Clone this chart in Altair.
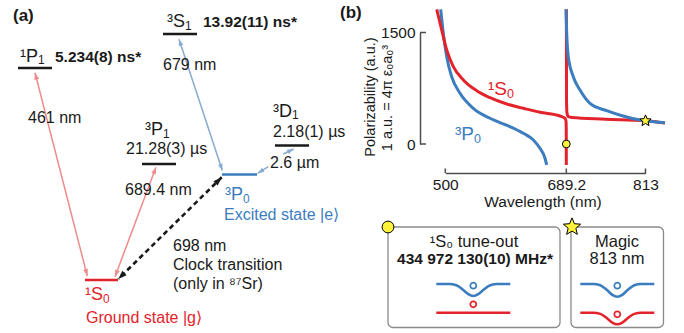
import math
import altair as alt
import pandas as pd

W, H = 684, 333
FONT = "Liberation Sans"
RED = "#e3232b"
BLUE = "#3b7dbf"
LRED = "#ee8c8c"
LBLUE = "#88aad0"
BLACK = "#1a1a1a"
GREY = "#4d4d4d"
YELLOW = "#fff23a"

# ---------------- (b) polarizability curves (wavelength nm, a.u.) ----------------
s0_left_wl = [486.6, 494.4, 502.2, 512.5, 528.1, 549.1, 569.9, 596.0, 621.9, 648.0, 679.3, 687.1, 688.7, 689.1, 689.2]
s0_left_a = [1812, 1533, 1264, 1040, 861, 717, 623, 538, 480, 426, 377, 346, 310, 200, -282]
s0_right_wl = [689.3, 689.5, 690.2, 692.3, 698.0, 750.0, 813.0, 843.4]
s0_right_a = [1812, 600, 420, 367, 356, 334, 312, 282]
p0_left_wl = [492.8, 496.9, 502.2, 510.0, 523.0, 543.8, 569.9, 601.2, 621.9, 637.6, 648.0, 655.9, 658.5]
p0_left_a = [1812, 1489, 1174, 905, 682, 480, 346, 233, 144, 54, -58, -192, -282]
p0_right_wl = [688.6, 689.8, 692.3, 700.1, 710.6, 726.2, 752.3, 777.8, 804.4, 813.0, 843.5]
p0_right_a = [1812, 1489, 1174, 905, 726, 547, 448, 377, 323, 312, 286]
x_ticks = [500, 689.2, 813]
y_ticks = [0, 1500]
tuneout_wl, tuneout_a = [689.2], [0]
magic_wl, magic_a = [813], [312]

# ---------------- (a) energy-level diagram (figure pixel coordinates) ----------------
level_x1 = [18, 163, 142, 275, 222, 85]
level_x2 = [52, 197, 176, 309, 257, 118]
level_y = [68, 34, 164, 145.5, 174.5, 280]
level_col = [BLACK, BLACK, BLACK, BLACK, BLUE, RED]

arrow_x1 = [35, 156, 179, 268.3, 283.3, 221.7]
arrow_y1 = [72.7, 167.3, 39.3, 166.7, 154, 177.3]
arrow_x2 = [87.3, 115, 222.3, 257.7, 293.7, 118.3]
arrow_y2 = [276, 276.7, 170.5, 173.3, 149, 279]
arrow_kind = ["lred", "lred", "lblue", "lblue", "lblue", "clock"]
arrow_both = [True, True, True, False, False, True]

# term symbols: (superscript+letter, subscript, x, baseline y, size, colour)
terms = [
    ("¹P", "1", 20, 61.7, 18, BLACK),
    ("³S", "1", 167, 27.3, 18, BLACK),
    ("³P", "1", 145, 135, 18, BLACK),
    ("³D", "1", 273, 116.7, 18, BLACK),
    ("³P", "0", 225, 200, 18, BLUE),
    ("¹S", "0", 85, 300, 18, RED),
    ("¹S", "0", 488, 95, 19, RED),
    ("³P", "0", 455, 140, 19, BLUE),
]

# text items: (text, x, y, size, colour, weight, align, angle)
texts = [
    ("(a)", 13, 21, 17, BLACK, "bold", "left", 0),
    ("(b)", 340, 17.5, 17, BLACK, "bold", "left", 0),
    ("5.234(8) ns*", 55, 61.7, 15.5, BLACK, "bold", "left", 0),
    ("13.92(11) ns*", 203, 27.3, 15.5, BLACK, "bold", "left", 0),
    ("461 nm", 28, 122.7, 16, BLACK, "normal", "left", 0),
    ("679 nm", 163, 70, 16, BLACK, "normal", "left", 0),
    ("21.28(3) µs", 126, 154, 16, BLACK, "normal", "left", 0),
    ("2.18(1) µs", 273, 136.7, 16, BLACK, "normal", "left", 0),
    ("2.6 µm", 270, 168, 16, BLACK, "normal", "left", 0),
    ("689.4 nm", 125, 195, 16, BLACK, "normal", "left", 0),
    ("Excited state |e\u27e9", 224, 220, 16, BLUE, "normal", "left", 0),
    ("698 nm", 173, 251, 16, BLACK, "normal", "left", 0),
    ("Clock transition", 173, 270, 16, BLACK, "normal", "left", 0),
    ("(only in ⁸⁷Sr)", 173, 288.5, 16, BLACK, "normal", "left", 0),
    ("Ground state |g\u27e9", 86, 322.7, 16, RED, "normal", "left", 0),
    ("Wavelength (nm)", 543, 207, 15.5, BLACK, "normal", "center", 0),
    ("Polarizability (a.u.)", 371, 97, 14.5, BLACK, "normal", "center", 270),
    ("1 a.u. = 4π ε₀a₀³", 388, 98, 14.5, BLACK, "normal", "center", 270),
    ("¹S₀ tune-out", 474, 246.7, 16.5, BLACK, "normal", "center", 0),
    ("434 972 130(10) MHz*", 475, 264, 15.5, BLACK, "bold", "center", 0),
    ("Magic", 617, 246.7, 16.5, BLACK, "normal", "center", 0),
    ("813 nm", 617, 264, 16.5, BLACK, "normal", "center", 0),
]

box_x1 = [388, 571]
box_x2 = [560, 663.5]
box_y1 = [227, 227]
box_y2 = [327.5, 327.5]

# potential-well icons: template offsets and per-icon centre / depth
well_dx = [-37, -24, -17, -10, -5, 0, 5, 10, 17, 24, 37]
well_f = [0, 0, 0.1, 0.5, 0.85, 1, 0.85, 0.5, 0.1, 0, 0]
icon_cx = [473.3, 473.3, 617.3, 617.3]
icon_y0 = [284, 312.7, 284, 312.7]
icon_depth = [12, 0, 12.7, 11.6]
icon_col = [BLUE, RED, BLUE, RED]
atom_x = [473.3, 473.3, 617.3, 617.3]
atom_y = [285.7, 304.3, 285.7, 314.3]
atom_col = [BLUE, RED, BLUE, RED]

# five-pointed star glyph (unit radius) for the magic-wavelength markers
_pts = []
for k in range(10):
    r = 1.0 if k % 2 == 0 else 0.45
    t = math.radians(-90 + 36 * k)
    _pts.append("%.3f,%.3f" % (r * math.cos(t), r * math.sin(t)))
STAR = "M" + "L".join(_pts) + "Z"
HEAD = "M0,0L0.45,1.25L-0.45,1.25Z"
# Arial / Liberation Sans advance widths (em) for placing subscripts
ADV = {"¹": 0.333, "³": 0.333, "P": 0.667, "S": 0.667, "D": 0.722}

# ---------------- build tables ----------------
px_x = alt.Scale(domain=[0, W], range=[0, W], nice=False, zero=False)
px_y = alt.Scale(domain=[0, H], range=[0, H], nice=False, zero=False)


def X(f):
    return alt.X(f, type="quantitative", scale=px_x, axis=None)


def Y(f):
    return alt.Y(f, type="quantitative", scale=px_y, axis=None)


levels = pd.DataFrame(dict(x=level_x1, x2=level_x2, y=level_y, y2=level_y, col=level_col))
arrows = pd.DataFrame(dict(x=arrow_x1, y=arrow_y1, x2=arrow_x2, y2=arrow_y2, kind=arrow_kind))

kind_col = {"lred": LRED, "lblue": LBLUE, "clock": BLACK}
kind_size = {"lred": 120, "lblue": 110, "clock": 190}


def ang(tx, ty, hx, hy):
    return (math.degrees(math.atan2(hx - tx, -(hy - ty))) + 360.0) % 360.0


heads = []
for i in range(len(arrow_x1)):
    k = arrow_kind[i]
    heads.append(dict(x=arrow_x2[i], y=arrow_y2[i], angle=ang(arrow_x1[i], arrow_y1[i], arrow_x2[i], arrow_y2[i]),
                      col=kind_col[k], size=kind_size[k]))
    if arrow_both[i]:
        heads.append(dict(x=arrow_x1[i], y=arrow_y1[i], angle=ang(arrow_x2[i], arrow_y2[i], arrow_x1[i], arrow_y1[i]),
                          col=kind_col[k], size=kind_size[k]))
heads = pd.DataFrame(heads)

trows = [list(t) for t in texts]
for base, sub, x, y, fs, col in terms:
    trows.append([base, x, y, fs, col, "normal", "left", 0])
    w = sum(ADV[c] for c in base) * fs
    trows.append([sub, x + w, y + 0.15 * fs, 0.66 * fs, col, "normal", "left", 0])
tdf = pd.DataFrame(trows, columns=["text", "x", "y", "fs", "col", "weight", "align", "angle"])

boxes = pd.DataFrame(dict(x=box_x1, x2=box_x2, y=box_y1, y2=box_y2))
box_circle = pd.DataFrame(dict(x=[box_x1[0]], y=[box_y1[0]]))
box_star = pd.DataFrame(dict(x=[box_x1[1] + 1], y=[box_y1[1]]))

wells = []
for j in range(len(icon_cx)):
    for i, (dx, f) in enumerate(zip(well_dx, well_f)):
        wells.append(dict(icon=j, i=i, x=icon_cx[j] + dx, y=icon_y0[j] + icon_depth[j] * f, col=icon_col[j]))
wells = pd.DataFrame(wells)
atoms = pd.DataFrame(dict(x=atom_x, y=atom_y, col=atom_col))

# ---------------- diagram layers ----------------
d_layers = []
d_layers.append(alt.Chart(boxes).mark_rect(cornerRadius=5, fill="white", stroke="#8a8a8a", strokeWidth=1.3)
                .encode(x=X("x"), x2="x2", y=Y("y"), y2="y2"))
d_layers.append(alt.Chart(levels).mark_rule(strokeWidth=2.6)
                .encode(x=X("x"), x2="x2", y=Y("y"), y2="y2", color=alt.Color("col:N", scale=None)))
for k, dash, sw in [("lred", None, 1.5), ("lblue", None, 1.5), ("clock", [5, 3.5], 2.6)]:
    props = dict(strokeWidth=sw, color=kind_col[k])
    if dash:
        props["strokeDash"] = dash
    d_layers.append(alt.Chart(arrows[arrows.kind == k]).mark_rule(**props)
                    .encode(x=X("x"), x2="x2", y=Y("y"), y2="y2"))
d_layers.append(alt.Chart(heads).mark_point(shape=HEAD, filled=True, opacity=1, strokeWidth=0)
                .encode(x=X("x"), y=Y("y"), angle=alt.Angle("angle:Q", scale=None),
                        color=alt.Color("col:N", scale=None), size=alt.Size("size:Q", scale=None)))
d_layers.append(alt.Chart(wells).mark_line(interpolate="monotone", strokeWidth=2.6)
                .encode(x=X("x"), y=Y("y"), detail="icon:N", order="i:Q", color=alt.Color("col:N", scale=None)))
d_layers.append(alt.Chart(atoms).mark_point(shape="circle", filled=False, size=36, strokeWidth=1.7, opacity=1)
                .encode(x=X("x"), y=Y("y"), color=alt.Color("col:N", scale=None)))
d_layers.append(alt.Chart(box_circle)
                .mark_point(shape="circle", filled=True, fill=YELLOW, stroke="black", strokeWidth=1, size=140, opacity=1)
                .encode(x=X("x"), y=Y("y")))
d_layers.append(alt.Chart(box_star)
                .mark_point(shape=STAR, filled=True, fill=YELLOW, stroke="black", strokeWidth=1, size=330, opacity=1)
                .encode(x=X("x"), y=Y("y")))
for (weight, align, angle), g in tdf.groupby(["weight", "align", "angle"]):
    d_layers.append(alt.Chart(g).mark_text(font=FONT, fontWeight=weight, align=align,
                                           baseline="alphabetic" if angle == 0 else "middle", angle=int(angle))
                    .encode(x=X("x"), y=Y("y"), text="text:N", size=alt.Size("fs:Q", scale=None),
                            color=alt.Color("col:N", scale=None)))
diagram = alt.layer(*d_layers)

# ---------------- polarizability layers ----------------
wl_scale = alt.Scale(domain=[500, 813], range=[445.3, 645.5], nice=False, zero=False)
a_scale = alt.Scale(domain=[0, 1500], range=[144, 32.5], nice=False, zero=False)
x_axis = alt.Axis(values=x_ticks, format=".5~g", orient="bottom", offset=-160, title=None, ticks=False, tickSize=0,
                  labelPadding=4, domainColor=GREY, domainWidth=1.5, labelFont=FONT, labelFontSize=15.5,
                  labelColor=BLACK, labelFlush=False, labelOverlap=False, grid=False)
y_axis = alt.Axis(values=y_ticks, format=".5~g", orient="left", offset=-420, title=None, ticks=False, tickSize=0,
                  labelPadding=5, domainColor=GREY, domainWidth=1.5, labelFont=FONT, labelFontSize=15.5,
                  labelColor=BLACK, labelFlush=False, labelOverlap=False, grid=False)


def XW(f):
    return alt.X(f, type="quantitative", scale=wl_scale, axis=x_axis)


def YA(f):
    return alt.Y(f, type="quantitative", scale=a_scale, axis=y_axis)


rows = []
for name, wls, als, col in [("p0l", p0_left_wl, p0_left_a, BLUE), ("s0l", s0_left_wl, s0_left_a, RED),
                            ("s0r", s0_right_wl, s0_right_a, RED), ("p0r", p0_right_wl, p0_right_a, BLUE)]:
    for i, (w, a) in enumerate(zip(wls, als)):
        rows.append(dict(branch=name, i=i, wl=w, a=a, col=col))
curves = pd.DataFrame(rows)

c_layers = []
c_layers.append(alt.Chart(pd.DataFrame(dict(wl=x_ticks))).mark_rule(color=GREY, strokeWidth=1.5)
                .encode(x=XW("wl"), y=alt.value(173), y2=alt.value(168.5)))
c_layers.append(alt.Chart(pd.DataFrame(dict(a=y_ticks))).mark_rule(color=GREY, strokeWidth=1.5)
                .encode(y=YA("a"), x=alt.value(420), x2=alt.value(426)))
c_layers.append(alt.Chart(curves).mark_line(interpolate="monotone", strokeWidth=3)
                .encode(x=XW("wl"), y=YA("a"), detail="branch:N", order="i:Q", color=alt.Color("col:N", scale=None)))
c_layers.append(alt.Chart(pd.DataFrame(dict(wl=tuneout_wl, a=tuneout_a)))
                .mark_point(shape="circle", filled=True, fill=YELLOW, stroke="black", strokeWidth=1, size=60, opacity=1)
                .encode(x=XW("wl"), y=YA("a")))
c_layers.append(alt.Chart(pd.DataFrame(dict(wl=magic_wl, a=magic_a)))
                .mark_point(shape=STAR, filled=True, fill=YELLOW, stroke="black", strokeWidth=1, size=140, opacity=1)
                .encode(x=XW("wl"), y=YA("a")))
plot_b = alt.layer(*c_layers)

chart = (alt.layer(diagram, plot_b)
         .resolve_scale(x="independent", y="independent")
         .properties(width=W, height=H, autosize=alt.AutoSizeParams(type="none"), padding=0,
                     background="white")
         .configure_view(stroke=None))

chart.save("out.html", embed_options={"renderer": "svg", "actions": False})
